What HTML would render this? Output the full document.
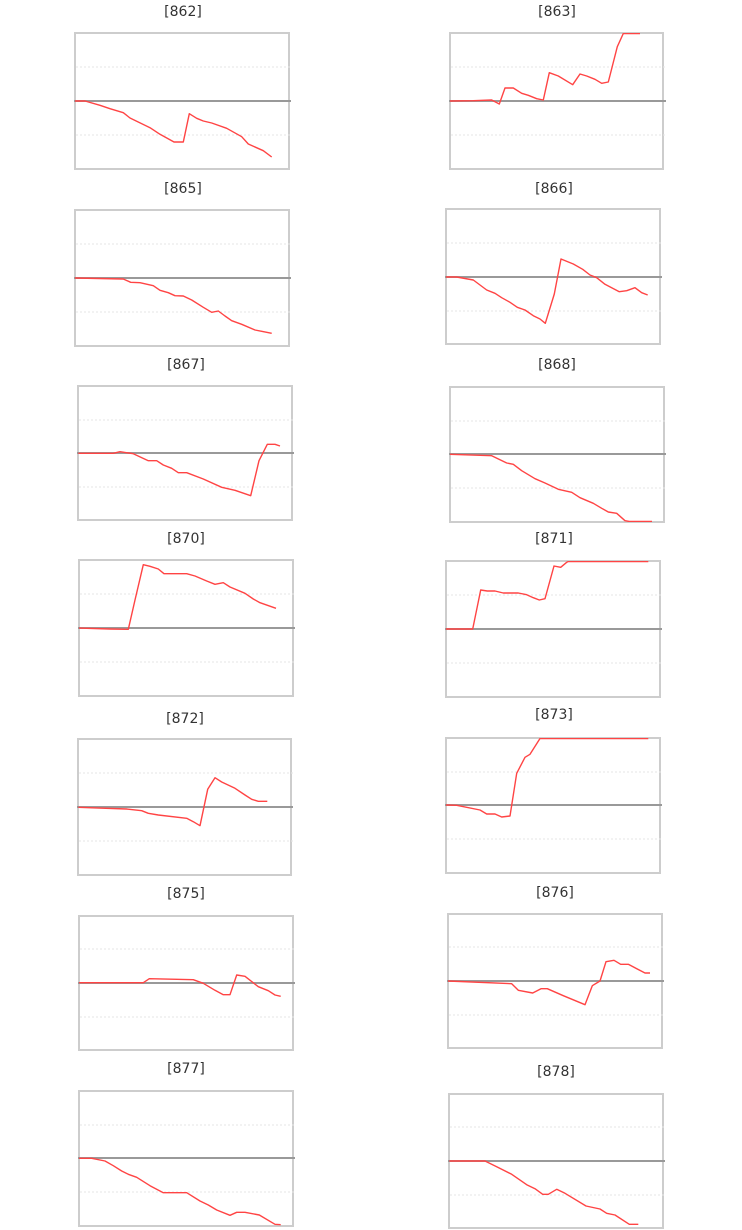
<!DOCTYPE html>
<html><head><meta charset="utf-8"><style>
html,body{margin:0;padding:0;background:#fff;}
svg{display:block;}
text{font-family:"DejaVu Sans","Liberation Sans",sans-serif;font-size:14px;fill:#333;}
.bx{fill:#fff;stroke:#cdcdcd;stroke-width:2;}
.gr{stroke:#e6e6e6;stroke-width:1;stroke-dasharray:2,2;}
.zr{stroke:#999;stroke-width:2;}
.ln{fill:none;stroke:#ff4444;stroke-width:1.4;stroke-linejoin:round;}
</style></head><body>
<svg width="742" height="1230" viewBox="0 0 742 1230" xmlns="http://www.w3.org/2000/svg">
<defs>
<clipPath id="c1"><rect x="75" y="33" width="214" height="136"/></clipPath>
<clipPath id="c2"><rect x="450" y="33" width="213" height="136"/></clipPath>
<clipPath id="c3"><rect x="75" y="210" width="214" height="136"/></clipPath>
<clipPath id="c4"><rect x="446" y="209" width="214" height="135"/></clipPath>
<clipPath id="c5"><rect x="78" y="386" width="214" height="134"/></clipPath>
<clipPath id="c6"><rect x="450" y="387" width="214" height="135"/></clipPath>
<clipPath id="c7"><rect x="79" y="560" width="214" height="136"/></clipPath>
<clipPath id="c8"><rect x="446" y="561" width="214" height="136"/></clipPath>
<clipPath id="c9"><rect x="78" y="739" width="213" height="136"/></clipPath>
<clipPath id="c10"><rect x="446" y="738" width="214" height="135"/></clipPath>
<clipPath id="c11"><rect x="79" y="916" width="214" height="134"/></clipPath>
<clipPath id="c12"><rect x="448" y="914" width="214" height="134"/></clipPath>
<clipPath id="c13"><rect x="79" y="1091" width="214" height="135"/></clipPath>
<clipPath id="c14"><rect x="449" y="1094" width="214" height="134"/></clipPath>
</defs>

<!-- 862 -->
<text x="183" y="16" text-anchor="middle">[862]</text>
<rect class="bx" x="75" y="33" width="214" height="136"/>
<line class="gr" x1="76" y1="67" x2="291" y2="67"/>
<line class="gr" x1="76" y1="135" x2="291" y2="135"/>
<line class="zr" x1="74" y1="101" x2="291" y2="101"/>
<polyline class="ln" clip-path="url(#c1)" points="75,101 85,101 100,105.3 110,108.7 123.3,112.7 130,118 150,127.7 160,134.3 174,142 183.3,142 189.3,113.7 196.7,118.3 203.3,121 211.7,123 226.7,128.3 241.7,136.7 248.3,144 263.3,150.7 271.7,157"/>

<!-- 863 -->
<text x="557" y="16" text-anchor="middle">[863]</text>
<rect class="bx" x="450" y="33" width="213" height="136"/>
<line class="gr" x1="451" y1="67" x2="666" y2="67"/>
<line class="gr" x1="451" y1="135" x2="666" y2="135"/>
<line class="zr" x1="449" y1="101" x2="666" y2="101"/>
<polyline class="ln" clip-path="url(#c2)" points="450,101 473.3,100.7 491.7,100 499.3,104 505,88 513.3,88 521.7,93.3 528.3,95.3 536.7,98.7 543.3,100 549.3,72.7 558.3,76 572.7,84.7 580,74 586.7,76 595,79.3 601.7,83.3 608.3,82 617.3,46.7 623.3,33.5 640,33.5"/>

<!-- 865 -->
<text x="183" y="193" text-anchor="middle">[865]</text>
<rect class="bx" x="75" y="210" width="214" height="136"/>
<line class="gr" x1="76" y1="244" x2="291" y2="244"/>
<line class="gr" x1="76" y1="312" x2="291" y2="312"/>
<line class="zr" x1="74" y1="278" x2="291" y2="278"/>
<polyline class="ln" clip-path="url(#c3)" points="75,278 123.3,279 130.7,282.3 140,282.7 153.3,285.7 160,290.3 168.3,292.7 175,295.7 183.3,296 191.7,300 203.3,307.3 211.7,312.3 218.3,311 225,316 231.7,320.7 241.7,324.3 255,330 261.7,331.3 271.7,333.3"/>

<!-- 866 -->
<text x="554" y="193" text-anchor="middle">[866]</text>
<rect class="bx" x="446" y="209" width="214" height="135"/>
<line class="gr" x1="447" y1="243" x2="662" y2="243"/>
<line class="gr" x1="447" y1="311" x2="662" y2="311"/>
<line class="zr" x1="445" y1="277" x2="662" y2="277"/>
<polyline class="ln" clip-path="url(#c4)" points="446,277 456.7,277 473.3,280 486.7,290 495,293.3 501.7,297.7 510,302.3 517.3,307.3 525,310 533.3,315.7 540,319 545.3,323.3 554.3,294 561,259 573.3,264 582.7,269.3 590,275 596.7,277.7 605,284.3 619.3,291.7 626.7,290.7 635,287.7 641.7,292.7 647.7,295"/>

<!-- 867 -->
<text x="186" y="369" text-anchor="middle">[867]</text>
<rect class="bx" x="78" y="386" width="214" height="134"/>
<line class="gr" x1="79" y1="420" x2="294" y2="420"/>
<line class="gr" x1="79" y1="487" x2="294" y2="487"/>
<line class="zr" x1="77" y1="453" x2="294" y2="453"/>
<polyline class="ln" clip-path="url(#c5)" points="78.3,453.3 113.3,453.3 120,451.7 133.3,453.7 148.3,460.7 156.7,460.7 163.3,465 171.7,468.3 178.3,472.7 186.7,472.7 203.3,479 221.7,487.3 235,490.3 250.7,495.7 259,460.7 267.3,444.3 275,444.3 280,446"/>

<!-- 868 -->
<text x="557" y="369" text-anchor="middle">[868]</text>
<rect class="bx" x="450" y="387" width="214" height="135"/>
<line class="gr" x1="451" y1="421" x2="666" y2="421"/>
<line class="gr" x1="451" y1="488" x2="666" y2="488"/>
<line class="zr" x1="449" y1="454" x2="666" y2="454"/>
<polyline class="ln" clip-path="url(#c6)" points="450,454.3 491.7,455.7 506.7,463 513.3,464.3 521.7,470.7 535,478.7 545,483 558.3,489.3 571.7,492.3 580,497.7 593.3,503.3 601.7,508.3 608.3,512 616.7,513.3 625,520.7 629.3,521.5 652,521.5"/>

<!-- 870 -->
<text x="186" y="543" text-anchor="middle">[870]</text>
<rect class="bx" x="79" y="560" width="214" height="136"/>
<line class="gr" x1="80" y1="594" x2="295" y2="594"/>
<line class="gr" x1="80" y1="662" x2="295" y2="662"/>
<line class="zr" x1="78" y1="628" x2="295" y2="628"/>
<polyline class="ln" clip-path="url(#c7)" points="78.3,628 110,629 128.3,629.3 135,600 143.3,564.7 150,566.3 158.3,569 164,573.7 186.7,573.7 195,576 206.7,581 215,584.3 223.3,582.7 230,587 245,593.3 253.3,599 260,602.7 276,608.3"/>

<!-- 871 -->
<text x="554" y="543" text-anchor="middle">[871]</text>
<rect class="bx" x="446" y="561" width="214" height="136"/>
<line class="gr" x1="447" y1="595" x2="662" y2="595"/>
<line class="gr" x1="447" y1="663" x2="662" y2="663"/>
<line class="zr" x1="445" y1="629" x2="662" y2="629"/>
<polyline class="ln" clip-path="url(#c8)" points="446,629 472.7,629 480.7,590 487.3,591 495,591 503.3,593 518.3,593 526.7,594.7 533.3,597.7 539.3,600 545,598.7 554,566 560.7,567.3 566.7,562.3 568.3,561.5 648.3,561.5"/>

<!-- 872 -->
<text x="185" y="723" text-anchor="middle">[872]</text>
<rect class="bx" x="78" y="739" width="213" height="136"/>
<line class="gr" x1="79" y1="773" x2="293" y2="773"/>
<line class="gr" x1="79" y1="841" x2="293" y2="841"/>
<line class="zr" x1="77" y1="807" x2="293" y2="807"/>
<polyline class="ln" clip-path="url(#c9)" points="78.3,807.3 126.7,809 141.7,810.7 148.3,813.3 158.3,815 186.7,818.3 193.3,821.7 200,825.7 207.7,789.3 215,777.7 221.7,782 235,788.3 245,795 251.7,799.3 258.3,801.3 267.3,801.3"/>

<!-- 873 -->
<text x="554" y="719" text-anchor="middle">[873]</text>
<rect class="bx" x="446" y="738" width="214" height="135"/>
<line class="gr" x1="447" y1="772" x2="662" y2="772"/>
<line class="gr" x1="447" y1="839" x2="662" y2="839"/>
<line class="zr" x1="445" y1="805" x2="662" y2="805"/>
<polyline class="ln" clip-path="url(#c10)" points="446,805 456.7,805.3 480,810 486.7,814 495,814 501.7,817 510,816 516.7,773.3 525,757.3 530,754.3 540,738.5 648.3,738.5"/>

<!-- 875 -->
<text x="186" y="898" text-anchor="middle">[875]</text>
<rect class="bx" x="79" y="916" width="214" height="134"/>
<line class="gr" x1="80" y1="949" x2="295" y2="949"/>
<line class="gr" x1="80" y1="1017" x2="295" y2="1017"/>
<line class="zr" x1="78" y1="983" x2="295" y2="983"/>
<polyline class="ln" clip-path="url(#c11)" points="79,982.7 143.3,982.7 149.3,978.7 193.3,979.7 203.3,983.3 215,990.3 223.3,994.7 230,994.7 236.7,975 245,976.3 258.3,986.7 268.3,990.7 275,995 280.7,996.3"/>

<!-- 876 -->
<text x="555" y="897" text-anchor="middle">[876]</text>
<rect class="bx" x="448" y="914" width="214" height="134"/>
<line class="gr" x1="449" y1="947" x2="664" y2="947"/>
<line class="gr" x1="449" y1="1015" x2="664" y2="1015"/>
<line class="zr" x1="447" y1="981" x2="664" y2="981"/>
<polyline class="ln" clip-path="url(#c12)" points="448,981 511.7,983.7 518.3,990.3 532.7,993 541,988.7 547.3,988.7 563.3,995.7 585,1004.7 592.3,985.7 600,981 606,961.7 614,960.3 620.7,964.3 628.3,964.3 645,973 650,973"/>

<!-- 877 -->
<text x="186" y="1073" text-anchor="middle">[877]</text>
<rect class="bx" x="79" y="1091" width="214" height="135"/>
<line class="gr" x1="80" y1="1125" x2="295" y2="1125"/>
<line class="gr" x1="80" y1="1192" x2="295" y2="1192"/>
<line class="zr" x1="78" y1="1158" x2="295" y2="1158"/>
<polyline class="ln" clip-path="url(#c13)" points="79,1158.3 91.7,1158.3 105,1161 113.3,1165.7 121.7,1171 128.3,1174.3 136.7,1177.3 150,1185.7 163.3,1192.7 186.7,1192.7 200,1201 208.3,1205 216.7,1210 230,1215.3 236.7,1212.3 245,1212.3 259.3,1215 275,1224.3 280.7,1224.7"/>

<!-- 878 -->
<text x="556" y="1076" text-anchor="middle">[878]</text>
<rect class="bx" x="449" y="1094" width="214" height="134"/>
<line class="gr" x1="450" y1="1127" x2="665" y2="1127"/>
<line class="gr" x1="450" y1="1195" x2="665" y2="1195"/>
<line class="zr" x1="448" y1="1161" x2="665" y2="1161"/>
<polyline class="ln" clip-path="url(#c14)" points="449.3,1161 485,1161 496.7,1166.7 511.7,1174.3 526.7,1184.7 535,1188.7 542.7,1194.3 548.3,1194.3 556.7,1189.3 565,1193.3 586,1206 600,1209 606.7,1213.3 615,1215 629.3,1224.3 638.3,1224.3"/>
</svg>
</body></html>
